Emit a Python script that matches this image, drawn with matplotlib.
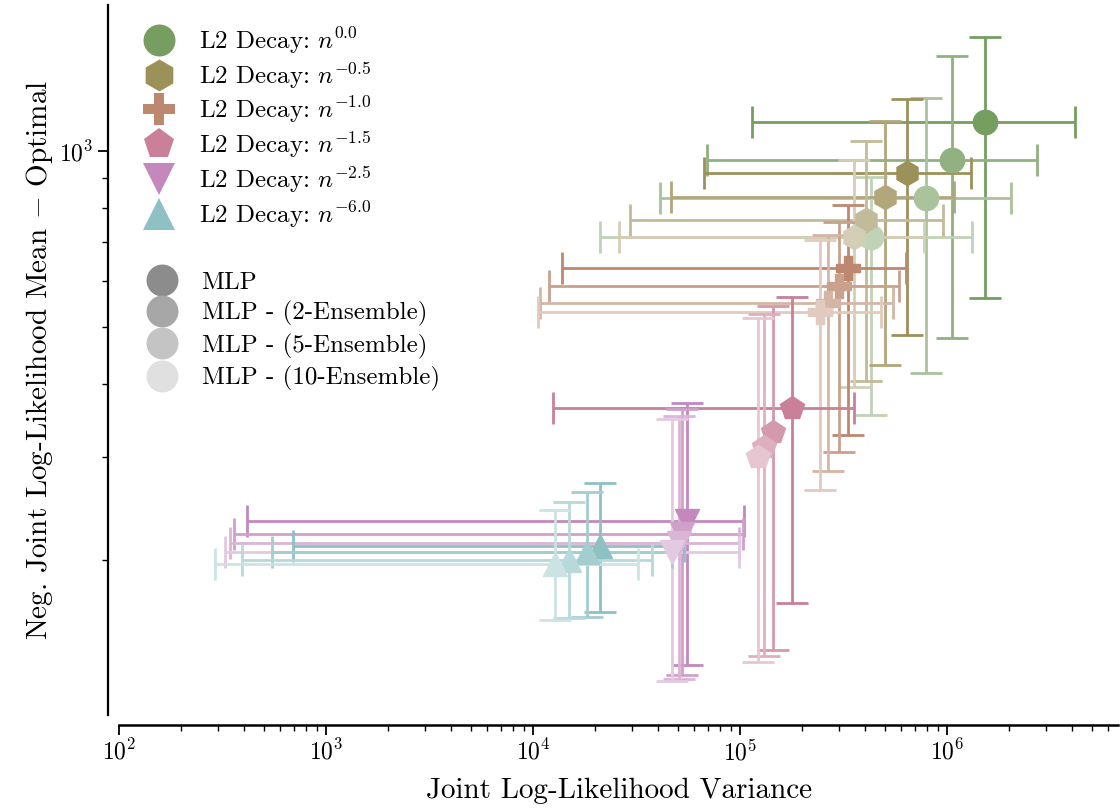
import numpy as np
import matplotlib.pyplot as plt
from matplotlib.lines import Line2D
from matplotlib.ticker import NullFormatter
from matplotlib.colors import to_rgb

plt.rcParams['font.family'] = 'serif'
plt.rcParams['font.serif'] = ['cmr10']
plt.rcParams['mathtext.fontset'] = 'cm'
plt.rcParams['axes.formatter.use_mathtext'] = True

# L2 decay exponents and the per-model style
decay_exps = ['0.0', '-0.5', '-1.0', '-1.5', '-2.5', '-6.0']
markers = ['o', 'h', 'P', 'p', 'v', '^']
base_colors = ['#769e60', '#9d915a', '#bc8970', '#c98098', '#c488be', '#8dc1c4']
model_labels = ['MLP', 'MLP - (2-Ensemble)', 'MLP - (5-Ensemble)', 'MLP - (10-Ensemble)']
shades = [1.0, 0.8, 0.62, 0.45]
legend_grays = ['#8c8c8c', '#a7a7a7', '#c4c4c4', '#e0e0e0']

# rows: decay, columns: MLP, 2-, 5-, 10-ensemble
var_mid = [
    [1.53e6, 1.06e6, 7.9e5, 4.3e5],
    [6.4e5, 5.0e5, 4.06e5, 3.55e5],
    [3.32e5, 3.01e5, 2.66e5, 2.44e5],
    [1.78e5, 1.44e5, 1.31e5, 1.22e5],
    [5.55e4, 5.25e4, 5.07e4, 4.69e4],
    [2.11e4, 1.82e4, 1.49e4, 1.28e4],
]
var_lo = [
    [1.14e5, 6.9e4, 4.1e4, 2.1e4],
    [6.7e4, 4.64e4, 2.94e4, 2.6e4],
    [1.38e4, 1.2e4, 1.08e4, 1.06e4],
    [1.25e4, 1.44e5, 1.31e5, 1.22e5],
    [415, 359, 344, 325],
    [693, 548, 393, 291],
]
var_hi = [
    [4.15e6, 2.72e6, 2.04e6, 1.32e6],
    [1.3e6, 1.08e6, 9.56e5, 7.74e5],
    [6.34e5, 5.86e5, 5.48e5, 4.8e5],
    [3.55e5, 1.44e5, 1.31e5, 1.22e5],
    [1.045e5, 1.034e5, 9.9e4, 9.9e4],
    [5.36e4, 4.69e4, 3.76e4, 3.22e4],
]
nll_mid = [
    [1121, 965, 831, 713],
    [917, 834, 762, 713],
    [631, 588, 550, 531],
    [364, 331, 312, 300],
    [233, 221, 214, 206],
    [211, 206, 200, 197],
]
nll_lo = [
    [561, 479, 417, 354],
    [485, 431, 404, 395],
    [327, 306, 284, 263],
    [169, 140, 137, 134],
    [132, 127, 125, 124],
    [163, 160, 159, 158],
]
nll_hi = [
    [1566, 1453, 1232, 903],
    [1227, 1125, 1040, 965],
    [809, 756, 719, 705],
    [563, 543, 527, 518],
    [371, 362, 352, 348],
    [271, 261, 251, 243],
]


def lighten(color, amount):
    c = np.array(to_rgb(color))
    return tuple(1 - (1 - c) * amount)


fig = plt.figure(figsize=(11.2, 8.09), dpi=100)
ax = fig.add_axes([0.1063, 0.1162, 0.892, 0.8776])

for i in range(len(decay_exps)):
    for j in range(len(model_labels)):
        col = lighten(base_colors[i], shades[j])
        xm, ym = var_mid[i][j], nll_mid[i][j]
        ax.errorbar(xm, ym,
                    xerr=[[xm - var_lo[i][j]], [var_hi[i][j] - xm]],
                    yerr=[[ym - nll_lo[i][j]], [nll_hi[i][j] - ym]],
                    fmt=markers[i], color=col, ecolor=col, markersize=17.5,
                    elinewidth=2.0, capsize=11.5, capthick=2.0)

ax.set_xscale('log')
ax.set_yscale('log')
ax.set_xlim(100, 6.7e6)
ax.set_ylim(108.6, 1776)
ax.yaxis.set_minor_formatter(NullFormatter())

for s in ['top', 'right']:
    ax.spines[s].set_visible(False)
ax.spines['left'].set_position(('outward', 8))
ax.spines['bottom'].set_position(('outward', 7))
ax.spines['left'].set_linewidth(1.6)
ax.spines['bottom'].set_linewidth(1.8)
ax.tick_params(which='major', length=7, width=1.3, labelsize=17)
ax.tick_params(which='minor', length=4, width=1.0)

ax.set_xlabel('Joint Log-Likelihood Variance', fontsize=21, labelpad=9)
ax.set_ylabel('Neg. Joint Log-Likelihood Mean $-$ Optimal', fontsize=21, labelpad=3)

decay_handles = [Line2D([], [], linestyle='', marker=markers[i], color=base_colors[i],
                        markersize=23, markeredgewidth=0)
                 for i in range(len(decay_exps))]
decay_names = ['L2 Decay: $n^{%s}$' % e for e in decay_exps]
leg1 = ax.legend(decay_handles, decay_names, loc='upper left', bbox_to_anchor=(0.0, 1.0),
                 frameon=False, fontsize=18, handlelength=1.6, handletextpad=0.8,
                 labelspacing=0.16, borderaxespad=0.4)
ax.add_artist(leg1)

model_handles = [Line2D([], [], linestyle='', marker='o', color=g, markersize=23,
                        markeredgewidth=0) for g in legend_grays]
ax.legend(model_handles, model_labels, loc='upper left', bbox_to_anchor=(0.0, 0.657),
          frameon=False, fontsize=18, handlelength=1.6, handletextpad=0.8,
          labelspacing=0.3, borderaxespad=0.5)

fig.savefig('out.png', dpi=100)
